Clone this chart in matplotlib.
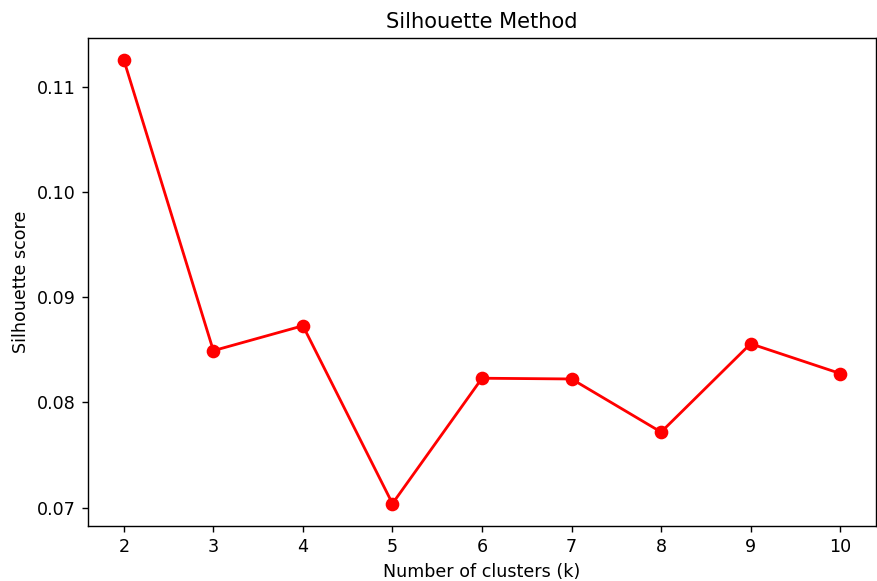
import matplotlib
matplotlib.use("Agg")
import matplotlib.pyplot as plt

k_values = [2, 3, 4, 5, 6, 7, 8, 9, 10]
silhouette_scores = [0.11257, 0.08492, 0.08729, 0.07038, 0.08230, 0.08223, 0.07718, 0.08558, 0.08275]

DPI = 126
fig = plt.figure(figsize=(877/DPI, 581/DPI), dpi=DPI)
ax = fig.add_axes([88/877, 1-526/581, (876-88)/877, (526-38)/581])
ax.plot(k_values, silhouette_scores, color='red', marker='o', markersize=6.8, linewidth=1.6)
ax.set_title("Silhouette Method")
ax.set_xlabel("Number of clusters (k)")
ax.set_ylabel("Silhouette score")
ax.set_xticks(k_values)
ax.set_yticks([0.07, 0.08, 0.09, 0.10, 0.11])
ax.set_xlim(1.6, 10.4)
ax.set_ylim(0.06825, 0.11465)
fig.savefig("out.png", dpi=DPI)
